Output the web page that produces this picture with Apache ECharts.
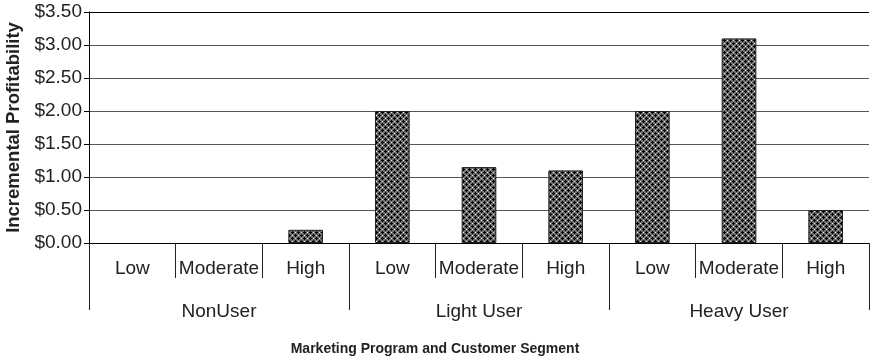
<!DOCTYPE html>
<html><head><meta charset="utf-8">
<script src="https://cdn.jsdelivr.net/npm/echarts@6/dist/echarts.min.js"></script>
<style>html,body{margin:0;padding:0;background:#fff}#c{width:870px;height:361px}</style>
</head><body><div id="c"></div>
<script>
var subCategories = ['Low','Moderate','High','Low','Moderate','High','Low','Moderate','High'];
var groups = ['NonUser','Light User','Heavy User'];
var values = [0, 0, 0.2, 2.0, 1.15, 1.1, 2.0, 3.1, 0.5];
var yTicks = [0, 0.5, 1, 1.5, 2, 2.5, 3, 3.5];

function makePattern(){
  var c = document.createElement('canvas');
  c.width = 6; c.height = 6;
  var g = c.getContext('2d');
  g.fillStyle = '#707070'; g.fillRect(0,0,6,6);
  g.fillStyle = '#000';
  function plus(x,y){ g.fillRect(x,y,1,1); g.fillRect(x-1,y,1,1); g.fillRect(x+1,y,1,1); g.fillRect(x,y-1,1,1); g.fillRect(x,y+1,1,1); }
  plus(1,1); plus(4,4);
  g.fillStyle = '#e8e8e8';
  g.fillRect(4,1,1,1); g.fillRect(1,4,1,1);
  return c;
}

var chart = echarts.init(document.getElementById('c'), null, {renderer:'canvas'});
var font = 'Liberation Sans, Arial, sans-serif';
chart.setOption({
  animation:false,
  textStyle:{fontFamily:font},
  title:{text:'Marketing Program and Customer Segment', left:'center', top:337,
    textStyle:{fontFamily:font, fontSize:14, fontWeight:'bold', color:'#222'}},
  grid:{left:89, right:1, top:12, bottom:118, containLabel:false, outerBoundsMode:'none'},
  xAxis:[{
    type:'category', data:subCategories, position:'bottom',
    axisLine:{show:true, lineStyle:{color:'#000', width:1}},
    axisTick:{show:true, interval:0, length:35, lineStyle:{color:'#222'}},
    axisLabel:{interval:0, margin:16, fontSize:19, color:'#222', fontFamily:font}
  },{
    type:'category', data:groups, position:'bottom', gridIndex:0,
    axisLine:{show:false},
    axisTick:{show:true, interval:0, length:67, lineStyle:{color:'#222'}},
    axisLabel:{interval:0, margin:59, fontSize:19, color:'#222', fontFamily:font}
  }],
  yAxis:{
    type:'value', min:0, max:3.5, interval:0.5,
    name:'Incremental Profitability', nameLocation:'middle', nameGap:65,
    nameTextStyle:{fontSize:18.5, fontWeight:'bold', color:'#222', fontFamily:font},
    axisLine:{show:true, lineStyle:{color:'#000'}},
    axisTick:{show:true, length:5, lineStyle:{color:'#000'}},
    axisLabel:{fontSize:19, color:'#222', margin:7, fontFamily:font,
      formatter:function(v){return '$'+v.toFixed(2);}},
    splitLine:{show:true, lineStyle:{color:['#555','#555','#555','#555','#555','#555','#555','#000'], width:1}}
  },
  series:[{
    type:'bar', xAxisIndex:0, barWidth:'40%',
    data:values.map(function(v){return v === 0 ? null : v;}),
    itemStyle:{color:{image:makePattern(), repeat:'repeat'}, borderColor:'#222', borderWidth:1}
  }]
});
</script></body></html>
